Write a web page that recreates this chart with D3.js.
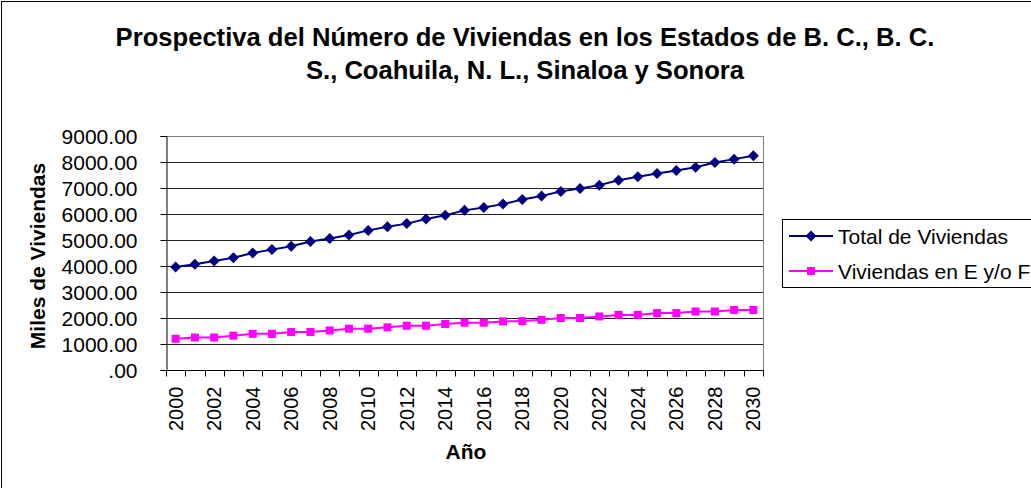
<!DOCTYPE html>
<html>
<head>
<meta charset="utf-8">
<script src="https://cdn.jsdelivr.net/npm/d3@7"></script>
<style>
  body { margin: 0; background: #fff; }
  svg { display: block; font-family: "Liberation Sans", Arial, sans-serif; }
</style>
</head>
<body>
<figure id="chart" style="margin:0"></figure>
<script>
// data (miles de viviendas)
var years = d3.range(2000, 2031);
var totalViviendas = [3960, 4070, 4190, 4320, 4500, 4630, 4760, 4940, 5060, 5190,
                      5370, 5510, 5630, 5810, 5950, 6140, 6250, 6380, 6560, 6690,
                      6870, 6980, 7110, 7300, 7430, 7560, 7670, 7800, 7980, 8110, 8240];
var viviendasEF = [1200, 1250, 1250, 1320, 1390, 1390, 1460, 1460, 1520, 1590,
                   1590, 1640, 1700, 1700, 1770, 1820, 1820, 1870, 1880, 1930,
                   2000, 2000, 2060, 2120, 2120, 2190, 2190, 2250, 2250, 2310, 2310];
var yTicks = [0, 1000, 2000, 3000, 4000, 5000, 6000, 7000, 8000, 9000];
var titleLines = ["Prospectiva del Número de Viviendas en los Estados de B. C., B. C.",
                  "S., Coahuila, N. L., Sinaloa y Sonora"];
var seriesNames = ["Total de Viviendas", "Viviendas en E y/o F"];

// dimensions
var W = 1031, H = 488;
var plot = {left: 166, top: 136, right: 763, bottom: 370};

var svg = d3.select("figure#chart")
  .append("svg")
    .attr("width", W)
    .attr("height", H);

// outer chart border (right and bottom edges fall outside the picture)
svg.append("rect")
  .attr("x", 1.5).attr("y", 1.5)
  .attr("width", W + 50).attr("height", H + 50)
  .attr("fill", "#fff")
  .attr("stroke", "#000")
  .attr("stroke-width", 1);

// title
svg.append("g")
  .selectAll("text")
  .data(titleLines)
  .join("text")
    .attr("x", 525)
    .attr("y", function(d, i) { return 46 + i * 33; })
    .attr("text-anchor", "middle")
    .style("font-weight", "bold")
    .style("font-size", "25.6px")
    .text(function(d) { return d; });

// scales
var x = d3.scaleBand()
  .domain(years)
  .range([plot.left, plot.right]);

var y = d3.scaleLinear()
  .domain([0, 9000])
  .range([plot.bottom, plot.top]);

// grid lines
svg.append("g")
  .selectAll("line")
  .data(yTicks.slice(1))
  .join("line")
    .attr("x1", plot.left).attr("x2", plot.right)
    .attr("y1", function(d) { return Math.round(y(d)) + 0.5; })
    .attr("y2", function(d) { return Math.round(y(d)) + 0.5; })
    .attr("stroke", function(d) { return d === 9000 ? "#808080" : "#222"; })
    .attr("stroke-width", 1);

// right border of plot area
svg.append("line")
  .attr("x1", plot.right + 0.5).attr("x2", plot.right + 0.5)
  .attr("y1", plot.top).attr("y2", plot.bottom)
  .attr("stroke", "#808080");

// Y axis
var yAxis = svg.append("g")
  .attr("transform", "translate(" + (plot.left + 0.5) + ",0)")
  .call(d3.axisLeft(y)
    .tickValues(yTicks)
    .tickSize(6)
    .tickPadding(23)
    .tickFormat(function(d) { return d === 0 ? ".00" : d3.format(".2f")(d); }));
yAxis.select(".domain").attr("stroke", "#000");
yAxis.selectAll(".tick line").attr("stroke", "#000");
yAxis.selectAll("text")
  .style("font-size", "21px")
  .attr("fill", "#000")
  .attr("dy", "0.36em");

// X axis: ticks on category boundaries
var xAxisG = svg.append("g")
  .attr("transform", "translate(0," + (plot.bottom + 0.5) + ")");
xAxisG.append("line")
  .attr("x1", plot.left).attr("x2", plot.right + 1)
  .attr("stroke", "#000");
xAxisG.selectAll("line.tk")
  .data(years.concat([2031]))
  .join("line")
    .attr("class", "tk")
    .attr("x1", function(d) { return Math.round(d === 2031 ? plot.right : x(d)) + 0.5; })
    .attr("x2", function(d) { return Math.round(d === 2031 ? plot.right : x(d)) + 0.5; })
    .attr("y1", 0).attr("y2", 6)
    .attr("stroke", "#000");
xAxisG.selectAll("text")
  .data(years.filter(function(d) { return d % 2 === 0; }))
  .join("text")
    .attr("transform", function(d) {
      return "translate(" + (x(d) + x.bandwidth() / 2 + 7) + ",16) rotate(-90)";
    })
    .attr("text-anchor", "end")
    .style("font-size", "20px")
    .text(function(d) { return d; });

// axis titles
svg.append("text")
  .attr("transform", "translate(45,256) rotate(-90)")
  .attr("text-anchor", "middle")
  .style("font-weight", "bold")
  .style("font-size", "21px")
  .text("Miles de Viviendas");

svg.append("text")
  .attr("x", 466)
  .attr("y", 459)
  .attr("text-anchor", "middle")
  .style("font-weight", "bold")
  .style("font-size", "21px")
  .text("Año");

// lines
var cx = function(d, i) { return x(years[i]) + x.bandwidth() / 2; };
var line = d3.line()
  .x(cx)
  .y(function(d) { return y(d); });

svg.append("path")
  .datum(totalViviendas)
  .attr("fill", "none")
  .attr("stroke", "#000080")
  .attr("stroke-width", 2)
  .attr("d", line);

svg.append("path")
  .datum(viviendasEF)
  .attr("fill", "none")
  .attr("stroke", "#FF00FF")
  .attr("stroke-width", 2)
  .attr("d", line);

// markers
svg.append("g")
  .selectAll("path")
  .data(totalViviendas)
  .join("path")
    .attr("transform", function(d, i) { return "translate(" + cx(d, i) + "," + y(d) + ")"; })
    .attr("d", "M0,-5.5L5.5,0L0,5.5L-5.5,0Z")
    .attr("fill", "#000080");

svg.append("g")
  .selectAll("rect")
  .data(viviendasEF)
  .join("rect")
    .attr("x", function(d, i) { return cx(d, i) - 4; })
    .attr("y", function(d) { return y(d) - 4; })
    .attr("width", 8)
    .attr("height", 8)
    .attr("fill", "#FF00FF");

// legend
var legend = svg.append("g");
legend.append("rect")
  .attr("x", 782.5).attr("y", 219.5)
  .attr("width", 300).attr("height", 68)
  .attr("fill", "#fff")
  .attr("stroke", "#000");

var items = legend.selectAll("g.item")
  .data(seriesNames)
  .join("g")
    .attr("class", "item")
    .attr("transform", function(d, i) { return "translate(0," + (236 + i * 35) + ")"; });
items.append("line")
  .attr("x1", 789).attr("x2", 833)
  .attr("stroke", function(d, i) { return i === 0 ? "#000080" : "#FF00FF"; })
  .attr("stroke-width", 2);
items.each(function(d, i) {
  var g = d3.select(this);
  if (i === 0) {
    g.append("path")
      .attr("transform", "translate(811,0)")
      .attr("d", "M0,-5.5L5.5,0L0,5.5L-5.5,0Z")
      .attr("fill", "#000080");
  } else {
    g.append("rect")
      .attr("x", 807).attr("y", -4)
      .attr("width", 8).attr("height", 8)
      .attr("fill", "#FF00FF");
  }
});
items.append("text")
  .attr("x", 838)
  .attr("dy", "0.36em")
  .style("font-size", "21px")
  .text(function(d) { return d; });
</script>
</body>
</html>
